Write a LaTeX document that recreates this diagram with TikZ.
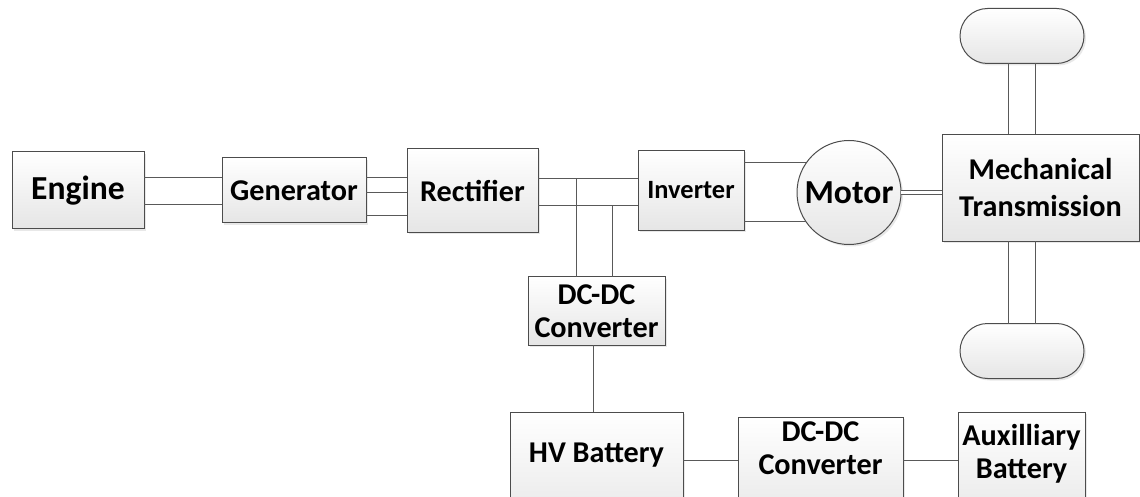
\documentclass[tikz,border=0pt]{standalone}
\usepackage{fontspec}
\setmainfont{Carlito}
\usetikzlibrary{positioning,shapes.misc,shadows}

\begin{document}
\begin{tikzpicture}[
  font=\bfseries,
  blk/.style={draw=black!70, line width=0.5pt, top color=white, bottom color=black!10,
              drop shadow={opacity=0.18, shadow xshift=1pt, shadow yshift=-1pt},
              inner sep=2pt, outer sep=0pt, align=center},
  bigtxt/.style={font=\bfseries\fontsize{16.8}{20}\selectfont},
  midtxt/.style={font=\bfseries\fontsize{15.1}{16.5}\selectfont},
  smalltxt/.style={font=\bfseries\fontsize{13.2}{16}\selectfont},
  motorc/.style={blk, circle, minimum size=52pt, inner sep=0pt},
  wheel/.style={blk, rounded rectangle, minimum width=66pt, minimum height=27.5pt},
  wire/.style={draw=black!65, line width=0.5pt},
  shaft/.style={draw=black!65, line width=0.45pt, double=white, double distance=1.2pt},
]
\useasboundingbox (0,0) rectangle (570pt,-248.5pt);

% ---- main power path ----
\node[blk, bigtxt, minimum width=66pt, minimum height=38.5pt] (engine) at (39pt,-95.25pt) {Engine};
\node[blk, midtxt, minimum width=72pt, minimum height=32.5pt, right=39pt of engine] (gen) {Generator};
\node[blk, midtxt, minimum width=65.5pt, minimum height=42pt, right=20.5pt of gen] (rect) {Rectifier};
\node[blk, smalltxt, minimum width=53pt, minimum height=40pt, right=50pt of rect] (inv) {Inverter};
\node[motorc, bigtxt, right=26.5pt of inv, yshift=-1pt] (motor) {Motor};
\node[blk, font=\bfseries\fontsize{15.1}{18.5}\selectfont, minimum width=98.5pt, minimum height=53.5pt,
      right=20.5pt of motor, yshift=2.25pt] (mech) {Mechanical\\Transmission};

% wheels
\node[wheel, above=35.5pt of mech, xshift=-9.25pt] (wheelT) {};
\node[wheel, below=41pt of mech, xshift=-9.25pt] (wheelB) {};

% ---- storage branch ----
\node[blk, midtxt, minimum width=68.5pt, minimum height=34pt] (dcA) at (298.25pt,-155.5pt) {DC-DC\\Converter};
% bottom row runs off the lower edge of the picture
\node[blk, midtxt, minimum width=86.5pt, inner ysep=15.5pt, below=33.5pt of dcA] (hv)
  {HV Battery\rule[-20pt]{0pt}{0pt}};
\node[blk, midtxt, minimum width=82.5pt, inner ysep=2.5pt, right=27.5pt of hv.north east, anchor=north west,
      yshift=-2.5pt] (dcB) {DC-DC\\Converter\rule[-24pt]{0pt}{0pt}};
\node[blk, midtxt, minimum width=63.5pt, inner ysep=6pt, right=27.5pt of dcB.north east, anchor=north west,
      yshift=2.5pt] (aux) {Auxilliary\\Battery\rule[-20pt]{0pt}{0pt}};

% engine -> generator
\draw[wire] ([yshift=6.25pt]engine.east) -- ([yshift=6.25pt]engine.east -| gen.west);
\draw[wire] ([yshift=-7.25pt]engine.east) -- ([yshift=-7.25pt]engine.east -| gen.west);

% generator -> rectifier (three phase)
\draw[wire] ([yshift=6.25pt]gen.east) -- ([yshift=6.25pt]gen.east -| rect.west);
\draw[wire] ([yshift=-1.25pt]gen.east) -- ([yshift=-1.25pt]gen.east -| rect.west);
\draw[wire] ([yshift=-12.75pt]gen.east) -- ([yshift=-12.75pt]gen.east -| rect.west);

% dc bus
\coordinate (busA) at ([yshift=6pt]rect.east);
\coordinate (busB) at ([yshift=-7.5pt]rect.east);
\draw[wire] (busA) -- (busA -| inv.west);
\draw[wire] (busB) -- (busB -| inv.west);
\coordinate (tapA) at ([xshift=-10.25pt]dcA.north);
\coordinate (tapB) at ([xshift=7.75pt]dcA.north);
\draw[wire] (tapA) -- (tapA |- busA);
\draw[wire] (tapB) -- (tapB |- busB);

% inverter -> motor
\draw[wire] (motor.145) -- (motor.145 -| inv.east);
\draw[wire] (motor.214) -- (motor.214 -| inv.east);

% motor -> transmission
\draw[shaft] (motor.east) -- (motor.east -| mech.west);

% axles
\draw[wire] ([xshift=-7pt]wheelT.south) -- ([xshift=-7pt]wheelT.south |- mech.north);
\draw[wire] ([xshift=6.5pt]wheelT.south) -- ([xshift=6.5pt]wheelT.south |- mech.north);
\draw[wire] ([xshift=-7pt]wheelB.north) -- ([xshift=-7pt]wheelB.north |- mech.south);
\draw[wire] ([xshift=6.5pt]wheelB.north) -- ([xshift=6.5pt]wheelB.north |- mech.south);

% battery side
\draw[wire] ([xshift=-1.75pt]dcA.south) -- ([xshift=-1.75pt]dcA.south |- hv.north);
\coordinate (lowbus) at ([yshift=-24pt]hv.north east);
\draw[wire] (lowbus) -- (lowbus -| dcB.west);
\draw[wire] (lowbus -| dcB.east) -- (lowbus -| aux.west);

\end{tikzpicture}
\end{document}
